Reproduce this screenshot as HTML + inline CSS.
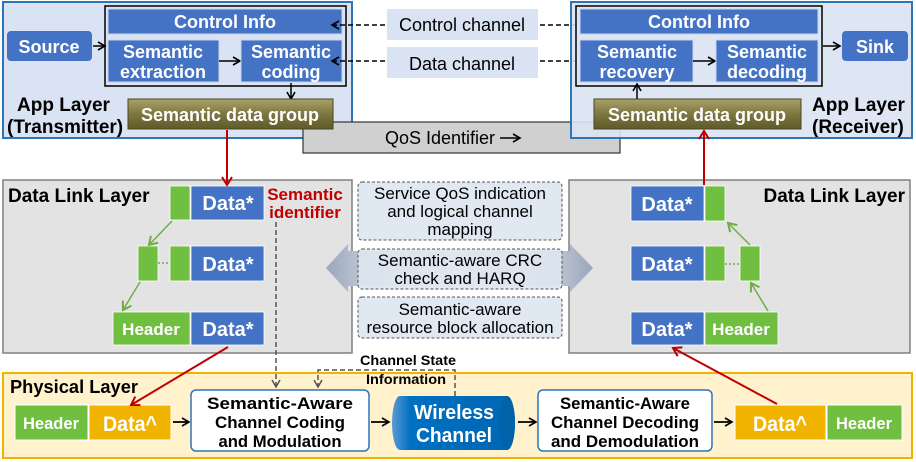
<!DOCTYPE html>
<html><head><meta charset="utf-8"><style>
html,body{margin:0;padding:0;background:#fff;}
svg{display:block;font-family:"Liberation Sans",Arial,sans-serif;}
.w{fill:#fff;font-weight:bold;font-size:18px;text-anchor:middle;}
.b{fill:#000;font-size:18px;text-anchor:middle;}
.n{font-size:17px;text-anchor:middle;}
.d{fill:#fff;font-weight:bold;font-size:20px;text-anchor:middle;}
.h{fill:#fff;font-weight:bold;font-size:17px;text-anchor:middle;}
</style></head><body>
<svg width="916" height="462" viewBox="0 0 916 462" xmlns="http://www.w3.org/2000/svg">
<defs>
<marker id="ak" markerWidth="10" markerHeight="10" refX="8" refY="5" orient="auto" markerUnits="userSpaceOnUse"><path d="M1,1 L8,5 L1,9" fill="none" stroke="#000" stroke-width="1.6"/></marker>
<marker id="ar" markerWidth="12" markerHeight="12" refX="9" refY="6" orient="auto" markerUnits="userSpaceOnUse"><path d="M1,1 L9,6 L1,11" fill="none" stroke="#c00000" stroke-width="2"/></marker>
<marker id="ag" markerWidth="12" markerHeight="12" refX="9" refY="6" orient="auto" markerUnits="userSpaceOnUse"><path d="M1,1 L9,6 L1,11" fill="none" stroke="#70ad47" stroke-width="2"/></marker>
<linearGradient id="ol" x1="0" y1="0" x2="0" y2="1"><stop offset="0" stop-color="#a9a26a"/><stop offset="0.5" stop-color="#7d7640"/><stop offset="1" stop-color="#5f5a2a"/></linearGradient>
<linearGradient id="ga" x1="0" y1="0" x2="1" y2="0"><stop offset="0" stop-color="#9aa6ba"/><stop offset="0.25" stop-color="#d9e0ea"/><stop offset="0.5" stop-color="#eef1f5"/><stop offset="0.75" stop-color="#d9e0ea"/><stop offset="1" stop-color="#9aa6ba"/></linearGradient>
<linearGradient id="cy" x1="0" y1="0" x2="1" y2="0"><stop offset="0" stop-color="#5b9bd5"/><stop offset="0.15" stop-color="#0070c0"/><stop offset="1" stop-color="#0066b3"/></linearGradient>
</defs>

<!-- App layer left -->
<rect x="3" y="2" width="349" height="136" fill="#dae3f3" stroke="#2e75b6" stroke-width="2"/>
<rect x="105" y="6" width="241" height="80" fill="none" stroke="#000" stroke-width="1.5"/>
<rect x="108" y="9" width="234" height="25" fill="#4472c4" stroke="#c8d4ef"/>
<text class="w" x="225" y="28">Control Info</text>
<rect x="7" y="31" width="85" height="30" rx="4" fill="#4472c4"/>
<text class="w" x="49" y="53">Source</text>
<line x1="93" y1="46" x2="105" y2="46" stroke="#000" stroke-width="1.5" marker-end="url(#ak)"/>
<rect x="108" y="40" width="111" height="42" fill="#4472c4" stroke="#c8d4ef"/>
<text class="w" x="163" y="58">Semantic</text><text class="w" x="163" y="78">extraction</text>
<line x1="219" y1="61" x2="240" y2="61" stroke="#000" stroke-width="1.5" marker-end="url(#ak)"/>
<rect x="241" y="40" width="101" height="42" fill="#4472c4" stroke="#c8d4ef"/>
<text class="w" x="291" y="58">Semantic</text><text class="w" x="291" y="78">coding</text>
<line x1="291" y1="83" x2="291" y2="99" stroke="#000" stroke-width="1.5" marker-end="url(#ak)"/>

<!-- QoS -->
<rect x="303" y="122" width="317" height="31" fill="#d0d0d0" stroke="#333" stroke-width="1.2"/>
<text class="b" x="440" y="144">QoS Identifier</text>
<line x1="500" y1="138" x2="520" y2="138" stroke="#000" stroke-width="1.5" marker-end="url(#ak)"/>
<rect x="128" y="99" width="205" height="30" fill="url(#ol)" stroke="#4a4520"/>
<text class="w" x="230" y="121">Semantic data group</text>
<text x="17" y="111" style="font-weight:bold;font-size:19px">App Layer</text>
<text x="7" y="133" style="font-weight:bold;font-size:19px">(Transmitter)</text>

<!-- channels -->
<rect x="387" y="9" width="151" height="31" fill="#dae3f3"/>
<text class="b" x="462" y="31">Control channel</text>
<rect x="387" y="47" width="151" height="31" fill="#dae3f3"/>
<text class="b" x="462" y="70">Data channel</text>
<line x1="385" y1="25" x2="332" y2="25" stroke="#000" stroke-width="1.5" stroke-dasharray="5,3" marker-end="url(#ak)"/>
<line x1="385" y1="61" x2="332" y2="61" stroke="#000" stroke-width="1.5" stroke-dasharray="5,3" marker-end="url(#ak)"/>
<line x1="540" y1="25" x2="592" y2="25" stroke="#000" stroke-width="1.5" stroke-dasharray="5,3" marker-end="url(#ak)"/>
<line x1="540" y1="61" x2="592" y2="61" stroke="#000" stroke-width="1.5" stroke-dasharray="5,3" marker-end="url(#ak)"/>

<!-- App layer right -->
<rect x="571" y="2" width="341" height="136" fill="#dae3f3" fill-opacity="0.9" stroke="#2e75b6" stroke-width="2"/>
<rect x="576" y="6" width="246" height="80" fill="none" stroke="#000" stroke-width="1.5"/>
<rect x="580" y="9" width="238" height="25" fill="#4472c4" stroke="#c8d4ef"/>
<text class="w" x="699" y="28">Control Info</text>
<rect x="580" y="40" width="113" height="42" fill="#4472c4" stroke="#c8d4ef"/>
<text class="w" x="637" y="58">Semantic</text><text class="w" x="637" y="78">recovery</text>
<line x1="693" y1="61" x2="715" y2="61" stroke="#000" stroke-width="1.5" marker-end="url(#ak)"/>
<rect x="716" y="40" width="102" height="42" fill="#4472c4" stroke="#c8d4ef"/>
<text class="w" x="767" y="58">Semantic</text><text class="w" x="767" y="78">decoding</text>
<line x1="823" y1="46" x2="840" y2="46" stroke="#000" stroke-width="1.5" marker-end="url(#ak)"/>
<rect x="842" y="31" width="66" height="30" rx="4" fill="#4472c4"/>
<text class="w" x="875" y="53">Sink</text>
<line x1="637" y1="99" x2="637" y2="84" stroke="#000" stroke-width="1.5" marker-end="url(#ak)"/>
<rect x="594" y="99" width="207" height="30" fill="url(#ol)" stroke="#4a4520"/>
<text class="w" x="697" y="121">Semantic data group</text>
<text x="812" y="111" style="font-weight:bold;font-size:19px">App Layer</text>
<text x="812" y="133" style="font-weight:bold;font-size:19px">(Receiver)</text>

<!-- Data link left -->
<rect x="3" y="180" width="349" height="173" fill="#e3e3e3" stroke="#808080" stroke-width="1.5"/>
<text x="8" y="202" style="font-weight:bold;font-size:19px">Data Link Layer</text>
<rect x="170" y="186" width="20" height="34" fill="#70bf41" stroke="#fff" stroke-width="0.8"/>
<rect x="191" y="186" width="73" height="34" fill="#4472c4" stroke="#fff" stroke-width="0.8"/>
<text class="d" x="228" y="210">Data*</text>
<rect x="138" y="246" width="20" height="35" fill="#70bf41" stroke="#fff" stroke-width="0.8"/>
<line x1="158" y1="263" x2="170" y2="263" stroke="#70ad47" stroke-width="1.5" stroke-dasharray="2,2"/>
<rect x="170" y="246" width="20" height="35" fill="#70bf41" stroke="#fff" stroke-width="0.8"/>
<rect x="191" y="246" width="73" height="35" fill="#4472c4" stroke="#fff" stroke-width="0.8"/>
<text class="d" x="228" y="271">Data*</text>
<rect x="113" y="312" width="77" height="33" fill="#70bf41" stroke="#fff" stroke-width="0.8"/>
<text class="h" x="151" y="335">Header</text>
<rect x="191" y="312" width="73" height="33" fill="#4472c4" stroke="#fff" stroke-width="0.8"/>
<text class="d" x="228" y="336">Data*</text>
<line x1="172" y1="221" x2="149" y2="245" stroke="#70ad47" stroke-width="1.5" marker-end="url(#ag)"/>
<line x1="140" y1="282" x2="123" y2="310" stroke="#70ad47" stroke-width="1.5" marker-end="url(#ag)"/>
<text x="305" y="200" style="font-weight:bold;font-size:17px;fill:#c00000;text-anchor:middle">Semantic</text>
<text x="305" y="218" style="font-weight:bold;font-size:17px;fill:#c00000;text-anchor:middle">identifier</text>

<!-- Data link right -->
<rect x="569" y="180" width="341" height="173" fill="#e3e3e3" stroke="#808080" stroke-width="1.5"/>
<text x="905" y="202" style="font-weight:bold;font-size:19px;text-anchor:end">Data Link Layer</text>
<rect x="631" y="186" width="73" height="35" fill="#4472c4" stroke="#fff" stroke-width="0.8"/>
<text class="d" x="667" y="211">Data*</text>
<rect x="705" y="186" width="20" height="35" fill="#70bf41" stroke="#fff" stroke-width="0.8"/>
<rect x="631" y="246" width="73" height="35" fill="#4472c4" stroke="#fff" stroke-width="0.8"/>
<text class="d" x="667" y="271">Data*</text>
<rect x="705" y="246" width="20" height="35" fill="#70bf41" stroke="#fff" stroke-width="0.8"/>
<line x1="725" y1="264" x2="740" y2="264" stroke="#70ad47" stroke-width="1.5" stroke-dasharray="2,2"/>
<rect x="740" y="246" width="20" height="35" fill="#70bf41" stroke="#fff" stroke-width="0.8"/>
<rect x="631" y="312" width="73" height="33" fill="#4472c4" stroke="#fff" stroke-width="0.8"/>
<text class="d" x="667" y="336">Data*</text>
<rect x="705" y="312" width="73" height="33" fill="#70bf41" stroke="#fff" stroke-width="0.8"/>
<text class="h" x="741" y="335">Header</text>
<line x1="750" y1="245" x2="728" y2="223" stroke="#70ad47" stroke-width="1.5" marker-end="url(#ag)"/>
<line x1="768" y1="311" x2="751" y2="283" stroke="#70ad47" stroke-width="1.5" marker-end="url(#ag)"/>

<!-- middle -->
<polygon points="326,268 348,244 348,251 570,251 570,244 593,268 570,292 570,286 348,286 348,292" fill="url(#ga)"/>
<rect x="358" y="182" width="204" height="58" rx="4" fill="#dde5f0" fill-opacity="0.9" stroke="#555" stroke-dasharray="3,2"/>
<text class="n" x="460" y="199">Service QoS indication</text>
<text class="n" x="460" y="217">and logical channel</text>
<text class="n" x="460" y="235">mapping</text>
<rect x="358" y="249" width="204" height="40" rx="4" fill="#dde5f0" fill-opacity="0.9" stroke="#555" stroke-dasharray="3,2"/>
<text class="n" x="460" y="266">Semantic-aware CRC</text>
<text class="n" x="460" y="284">check and HARQ</text>
<rect x="358" y="297" width="204" height="41" rx="4" fill="#dde5f0" fill-opacity="0.9" stroke="#555" stroke-dasharray="3,2"/>
<text class="n" x="460" y="315">Semantic-aware</text>
<text class="n" x="460" y="333">resource block allocation</text>

<!-- Physical layer -->
<rect x="3" y="373" width="909" height="85" fill="#fff2cc" stroke="#f0b400" stroke-width="2"/>
<g>
<text x="10" y="393" style="font-weight:bold;font-size:18px" textLength="128" lengthAdjust="spacingAndGlyphs">Physical Layer</text>
<rect x="15" y="405" width="73" height="35" fill="#70bf41" stroke="#fff"/>
<text class="w" x="51" y="429" style="font-size:17px" textLength="56" lengthAdjust="spacingAndGlyphs">Header</text>
<rect x="89" y="405" width="82" height="35" fill="#f0b400" stroke="#fff"/>
<text class="w" x="130" y="431" style="font-size:21px" textLength="54" lengthAdjust="spacingAndGlyphs">Data^</text>
<line x1="173" y1="422" x2="189" y2="422" stroke="#000" stroke-width="1.8" marker-end="url(#ak)"/>
<rect x="191" y="390" width="178" height="61" rx="5" fill="#fff" stroke="#2e75b6" stroke-width="1.5"/>
<text x="280" y="409" style="font-weight:bold;font-size:17px;text-anchor:middle" textLength="146" lengthAdjust="spacingAndGlyphs">Semantic-Aware</text>
<text x="280" y="428" style="font-weight:bold;font-size:17px;text-anchor:middle" textLength="130" lengthAdjust="spacingAndGlyphs">Channel Coding</text>
<text x="280" y="447" style="font-weight:bold;font-size:17px;text-anchor:middle" textLength="123" lengthAdjust="spacingAndGlyphs">and Modulation</text>
<line x1="371" y1="422" x2="389" y2="422" stroke="#000" stroke-width="1.8" marker-end="url(#ak)"/>
<path d="M400,396 L507,396 A8,27 0 0 1 507,450 L400,450 A8,27 0 0 1 400,396 Z" fill="url(#cy)"/>
<ellipse cx="507" cy="423" rx="8" ry="27" fill="#0062a8"/>
<text class="w" x="454" y="419" style="font-size:20px" textLength="80" lengthAdjust="spacingAndGlyphs">Wireless</text>
<text class="w" x="454" y="442" style="font-size:20px" textLength="76" lengthAdjust="spacingAndGlyphs">Channel</text>
<line x1="518" y1="422" x2="536" y2="422" stroke="#000" stroke-width="1.8" marker-end="url(#ak)"/>
<rect x="538" y="390" width="174" height="61" rx="5" fill="#fff" stroke="#2e75b6" stroke-width="1.5"/>
<text x="625" y="409" style="font-weight:bold;font-size:17px;text-anchor:middle" textLength="130" lengthAdjust="spacingAndGlyphs">Semantic-Aware</text>
<text x="625" y="428" style="font-weight:bold;font-size:17px;text-anchor:middle" textLength="148" lengthAdjust="spacingAndGlyphs">Channel Decoding</text>
<text x="625" y="447" style="font-weight:bold;font-size:17px;text-anchor:middle" textLength="148" lengthAdjust="spacingAndGlyphs">and Demodulation</text>
<line x1="714" y1="422" x2="732" y2="422" stroke="#000" stroke-width="1.8" marker-end="url(#ak)"/>
<rect x="735" y="405" width="91" height="35" fill="#f0b400" stroke="#fff"/>
<text class="w" x="780" y="431" style="font-size:21px" textLength="54" lengthAdjust="spacingAndGlyphs">Data^</text>
<rect x="827" y="405" width="75" height="35" fill="#70bf41" stroke="#fff"/>
<text class="w" x="864" y="429" style="font-size:17px" textLength="56" lengthAdjust="spacingAndGlyphs">Header</text>
<text x="408" y="365" style="font-weight:bold;font-size:14px;text-anchor:middle" textLength="96" lengthAdjust="spacingAndGlyphs">Channel State</text>
<text x="406" y="384" style="font-weight:bold;font-size:14px;text-anchor:middle" textLength="80" lengthAdjust="spacingAndGlyphs">Information</text>
</g>
<line x1="276" y1="222" x2="276" y2="386" stroke="#555" stroke-width="1.5" stroke-dasharray="5,3"/>
<path d="M272,380 L276,387 L280,380" fill="none" stroke="#555" stroke-width="1.5"/>
<path d="M455,396 L455,370 L318,370 L318,386" fill="none" stroke="#555" stroke-width="1.5" stroke-dasharray="5,3"/>
<path d="M314,380 L318,387 L322,380" fill="none" stroke="#555" stroke-width="1.5"/>

<!-- red arrows -->
<line x1="227" y1="130" x2="227" y2="185" stroke="#c00000" stroke-width="2" marker-end="url(#ar)"/>
<line x1="704" y1="185" x2="704" y2="131" stroke="#c00000" stroke-width="2" marker-end="url(#ar)"/>
<line x1="228" y1="347" x2="131" y2="405" stroke="#c00000" stroke-width="2" marker-end="url(#ar)"/>
<line x1="777" y1="404" x2="673" y2="348" stroke="#c00000" stroke-width="2" marker-end="url(#ar)"/>
</svg>
</body></html>
